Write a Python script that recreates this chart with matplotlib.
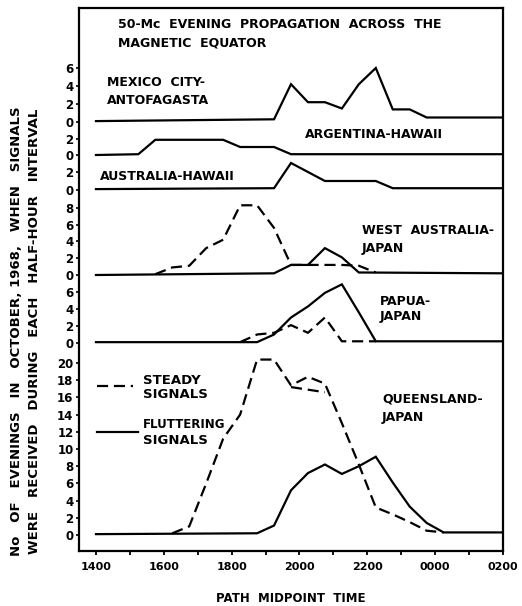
import matplotlib
matplotlib.use("Agg")
import matplotlib.pyplot as plt

# ---------------- data (hours after midnight of the evening; 26 = 0200) ----------------
mex_x = [14.0, 19.25, 19.75, 20.25, 20.75, 21.25, 21.75, 22.25, 22.75, 23.25, 23.75, 26.0]
mex_y = [0.1, 0.3, 4.2, 2.2, 2.2, 1.5, 4.2, 6.0, 1.4, 1.4, 0.5, 0.5]

arg_x = [14.0, 15.25, 15.75, 17.75, 18.25, 19.25, 19.75, 26.0]
arg_y = [0.0, 0.1, 1.9, 1.9, 1.0, 1.0, 0.1, 0.1]

aus_x = [14.0, 19.25, 19.75, 20.75, 22.25, 22.75, 26.0]
aus_y = [0.1, 0.2, 3.0, 1.0, 1.0, 0.2, 0.2]

wa_sol_x = [14.0, 19.25, 19.75, 20.25, 20.75, 21.25, 21.75, 26.0]
wa_sol_y = [0.0, 0.2, 1.2, 1.2, 3.2, 2.1, 0.3, 0.2]
wa_dash_x = [15.75, 16.25, 16.75, 17.25, 17.75, 18.25, 18.75, 19.25, 19.75, 20.25, 20.75, 21.25, 21.75, 22.25]
wa_dash_y = [0.1, 0.9, 1.1, 3.2, 4.2, 8.3, 8.3, 5.6, 1.2, 1.2, 1.2, 1.2, 1.1, 0.3]

pap_sol_x = [14.0, 18.75, 19.25, 19.75, 20.25, 20.75, 21.25, 21.75, 22.25, 26.0]
pap_sol_y = [0.1, 0.1, 1.0, 3.0, 4.3, 5.9, 6.9, 3.6, 0.2, 0.2]
pap_dash_x = [18.25, 18.75, 19.25, 19.75, 20.25, 20.75, 21.25, 21.75, 22.25]
pap_dash_y = [0.1, 1.0, 1.2, 2.1, 1.2, 3.0, 0.2, 0.2, 0.2]

qld_sol_x = [14.0, 18.75, 19.25, 19.75, 20.25, 20.75, 21.25, 21.75, 22.25, 22.75, 23.25, 23.75, 24.25, 26.0]
qld_sol_y = [0.1, 0.2, 1.1, 5.2, 7.2, 8.2, 7.1, 8.0, 9.1, 6.1, 3.3, 1.4, 0.3, 0.3]
qld_dash_x = [16.25, 16.75, 17.25, 17.75, 18.25, 18.75, 19.25, 19.75, 20.25, 20.75, 21.25, 21.75, 22.25, 22.75, 23.25, 23.75, 24.25]
qld_dash_y = [0.2, 1.0, 6.0, 11.2, 14.0, 20.4, 20.4, 17.4, 18.4, 17.6, 13.0, 8.2, 3.2, 2.4, 1.5, 0.5, 0.3]
qld_alt_x = [19.75, 20.25, 20.75]
qld_alt_y = [17.2, 16.9, 16.6]

x_ticks = [14, 16, 18, 20, 22, 24, 26]
x_labels = ["1400", "1600", "1800", "2000", "2200", "0000", "0200"]

panel_names = ["mex", "arg", "aus", "wa", "pap", "qld"]
panel_ticks = {
    "mex": [0, 2, 4, 6],
    "arg": [0, 2],
    "aus": [0, 2],
    "wa": [0, 2, 4, 6, 8],
    "pap": [0, 2, 4, 6],
    "qld": [0, 2, 4, 6, 8, 10, 12, 14, 16, 18, 20],
}

# ---------------- layout (pixels of a 522x606 canvas) ----------------
W, H = 522, 606
FX0, FX1, FY0, FY1 = 79, 503, 8, 551    # frame left, right, top, bottom
# zero-line pixel row and pixels per unit for every stacked panel
panel_geom = {
    "mex": (122, 9.0),
    "arg": (155, 8.0),
    "aus": (190, 9.0),
    "wa": (275, 8.4),
    "pap": (343, 8.5),
    "qld": (535, 8.6),
}

plt.rcParams['font.family'] = ['DejaVu Sans']
plt.rcParams['font.weight'] = 'bold'

fig = plt.figure(figsize=(W / 100, H / 100), dpi=100)
fig.patch.set_facecolor("white")
rect = [FX0 / W, 1 - FY1 / H, (FX1 - FX0) / W, (FY1 - FY0) / H]

ax = fig.add_axes(rect)
ax.set_xlim(13.5, 26.0)
ax.set_ylim(0, 1)
ax.set_yticks([])
ax.set_xticks(x_ticks)
ax.set_xticklabels(x_labels, fontsize=8, fontweight='bold')
ax.set_xticks([15, 17, 19, 21, 23, 25], minor=True)
ax.tick_params(axis='x', which='both', direction='out', length=3, width=1.3, pad=5)
for sp in ax.spines.values():
    sp.set_linewidth(1.6)
ax.set_xlabel("PATH  MIDPOINT  TIME", fontsize=8.5, fontweight='bold', labelpad=14)

LW = 1.6
DASH = (5, 2.6)

panel_axes = {}
for name in panel_names:
    y0, s = panel_geom[name]
    pa = fig.add_axes(rect, sharex=ax)
    pa.patch.set_alpha(0)
    for sp in pa.spines.values():
        sp.set_visible(False)
    pa.set_ylim(-(FY1 - y0) / s, (y0 - FY0) / s)
    pa.set_yticks(panel_ticks[name])
    pa.set_yticklabels([str(t) for t in panel_ticks[name]], fontsize=8.5, fontweight='bold')
    pa.tick_params(axis='y', direction='out', length=2.5, width=1.2, pad=1.5)
    pa.tick_params(axis='x', which='both', bottom=False, labelbottom=False)
    panel_axes[name] = pa

def solid(name, x, y):
    panel_axes[name].plot(x, y, color='black', lw=LW, solid_joinstyle='miter')

def dashed(name, x, y):
    panel_axes[name].plot(x, y, color='black', lw=LW, linestyle=(0, DASH))

solid("mex", mex_x, mex_y)
solid("arg", arg_x, arg_y)
solid("aus", aus_x, aus_y)
solid("wa", wa_sol_x, wa_sol_y)
dashed("wa", wa_dash_x, wa_dash_y)
solid("pap", pap_sol_x, pap_sol_y)
dashed("pap", pap_dash_x, pap_dash_y)
solid("qld", qld_sol_x, qld_sol_y)
dashed("qld", qld_dash_x, qld_dash_y)
dashed("qld", qld_alt_x, qld_alt_y)

# ---------------- text ----------------
def ptext(px, py, s, size=9, ha='left', va='center', **kw):
    fig.text(px / W, 1 - py / H, s, fontsize=size, ha=ha, va=va, fontweight='bold', **kw)

ptext(118, 25, "50-Mc  EVENING  PROPAGATION  ACROSS  THE")
ptext(118, 43, "MAGNETIC  EQUATOR")
ptext(107, 82, "MEXICO  CITY-")
ptext(107, 100, "ANTOFAGASTA")
ptext(305, 135, "ARGENTINA-HAWAII")
ptext(100, 177, "AUSTRALIA-HAWAII")
ptext(362, 230, "WEST  AUSTRALIA-")
ptext(362, 248, "JAPAN")
ptext(380, 302, "PAPUA-")
ptext(380, 317, "JAPAN")
ptext(382, 399, "QUEENSLAND-")
ptext(382, 418, "JAPAN")
ptext(143, 380, "STEADY", size=9.5)
ptext(143, 395, "SIGNALS", size=9.5)
ptext(143, 425, "FLUTTERING", size=8.5)
ptext(143, 440, "SIGNALS", size=9.5)

# legend samples
fig.add_artist(plt.Line2D([97 / W, 133 / W], [1 - 386 / H, 1 - 386 / H], color='black', lw=LW,
                          linestyle=(0, DASH)))
fig.add_artist(plt.Line2D([97 / W, 138 / W], [1 - 432 / H, 1 - 432 / H], color='black', lw=LW))

ptext(17, 331, "No   OF   EVENINGS   IN   OCTOBER, 1968,   WHEN   SIGNALS", size=9.5, ha='center',
      rotation=90)
ptext(35, 331, "WERE   RECEIVED   DURING   EACH   HALF-HOUR   INTERVAL", size=9.5, ha='center',
      rotation=90)

fig.savefig("out.png", dpi=100, facecolor="white")
